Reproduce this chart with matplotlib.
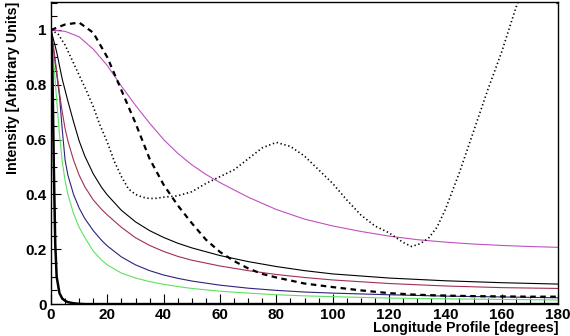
import matplotlib
matplotlib.use('Agg')
import matplotlib.pyplot as plt
from matplotlib.ticker import MultipleLocator

plt.rcParams['font.family'] = ['Liberation Sans', 'DejaVu Sans']

# Longitude profiles (degrees, intensity)
thick_x = [0, 0.5, 1, 1.5, 2, 3, 4, 5, 6, 8, 10, 12, 180]
thick_y = [1.0, 0.85, 0.5, 0.22, 0.1, 0.04, 0.02, 0.012, 0.007, 0.003, 0.001, 0.0, 0.0]

solid_x = [0, 1, 2, 3, 4, 5, 6, 8, 10, 12, 15, 18, 20, 25, 30, 35, 40, 45, 50,
           60, 70, 80, 90, 100, 120, 140, 160, 180]
green_y = [1.0, 0.88, 0.745, 0.62, 0.52, 0.45, 0.40, 0.33, 0.28, 0.243, 0.193, 0.16, 0.143,
           0.113, 0.095, 0.082, 0.072, 0.064, 0.057, 0.047, 0.04, 0.034, 0.03, 0.027,
           0.022, 0.019, 0.017, 0.015]
blue_y = [1.0, 0.92, 0.84, 0.76, 0.635, 0.525, 0.47, 0.40, 0.35, 0.312, 0.268, 0.232, 0.212,
          0.172, 0.143, 0.122, 0.106, 0.094, 0.084, 0.069, 0.058, 0.05, 0.044, 0.04,
          0.034, 0.029, 0.026, 0.023]
red_y = [1.0, 0.93, 0.85, 0.77, 0.70, 0.64, 0.595, 0.525, 0.47, 0.428, 0.38, 0.345, 0.325,
         0.28, 0.242, 0.214, 0.192, 0.174, 0.16, 0.139, 0.122, 0.108, 0.097, 0.088,
         0.075, 0.066, 0.06, 0.057]
black_y = [1.0, 0.96, 0.92, 0.87, 0.82, 0.78, 0.74, 0.665, 0.595, 0.54, 0.475, 0.425, 0.398,
           0.342, 0.30, 0.268, 0.243, 0.222, 0.205, 0.177, 0.155, 0.137, 0.122, 0.11,
           0.095, 0.085, 0.078, 0.073]

magenta_x = [0, 5, 10, 15, 20, 25, 30, 35, 40, 45, 50, 55, 60, 70, 80, 90, 100, 110, 120,
             130, 140, 150, 160, 170, 180]
magenta_y = [1.0, 0.995, 0.975, 0.93, 0.87, 0.795, 0.725, 0.66, 0.60, 0.55, 0.508, 0.473,
             0.443, 0.39, 0.345, 0.31, 0.285, 0.265, 0.248, 0.235, 0.226, 0.219, 0.214,
             0.21, 0.207]

dashed_x = [0, 5, 10, 15, 20, 25, 30, 35, 40, 45, 50, 55, 60, 65, 70, 75, 80, 90,
            100, 110, 120, 130, 140, 150, 160, 170, 180]
dashed_y = [1.0, 1.02, 1.027, 0.99, 0.90, 0.78, 0.66, 0.53, 0.435, 0.36, 0.295, 0.235,
            0.19, 0.157, 0.13, 0.11, 0.097, 0.075, 0.062, 0.05, 0.04, 0.034, 0.031,
            0.029, 0.028, 0.027, 0.027]

dotted_x = [0, 2.5, 5, 7.5, 10, 12.5, 15, 17.5, 20, 22.5, 25, 27.5, 30, 32.5, 35, 37.5,
            40, 45, 50, 55, 60, 65, 70, 75, 80, 85, 90, 95, 100, 105, 110, 115, 120,
            125, 128, 131, 134, 137, 140, 145, 150, 155, 160, 165, 170, 175, 180]
dotted_y = [1.0, 0.985, 0.945, 0.89, 0.835, 0.78, 0.72, 0.65, 0.59, 0.52, 0.465, 0.42,
            0.40, 0.39, 0.385, 0.386, 0.39, 0.395, 0.41, 0.44, 0.465, 0.49, 0.53, 0.57,
            0.59, 0.575, 0.54, 0.49, 0.44, 0.38, 0.325, 0.285, 0.26, 0.225, 0.21, 0.22,
            0.24, 0.28, 0.345, 0.48, 0.63, 0.78, 0.92, 1.08, 1.22, 1.22, 1.09]

fig = plt.figure(figsize=(5.7, 3.36), dpi=100)
ax = fig.add_axes([0.0895, 0.095, 0.8895, 0.899])

ax.plot(solid_x, green_y, color='#60e060', lw=0.8)
ax.plot(solid_x, blue_y, color='#302080', lw=0.8)
ax.plot(solid_x, red_y, color='#a03050', lw=0.8)
ax.plot(solid_x, black_y, color='black', lw=0.8)
ax.plot(magenta_x, magenta_y, color='#c050c0', lw=0.8)
ax.plot(dashed_x, dashed_y, color='black', lw=1.6, ls=(0, (2.5, 2)))
ax.plot(dotted_x, dotted_y, color='black', lw=1.2, ls=(0, (0.8, 1.6)))
ax.plot(thick_x, thick_y, color='black', lw=1.8)

ax.set_xlim(0, 180)
ax.set_ylim(0, 1.102)

ax.xaxis.set_major_locator(MultipleLocator(20))
ax.xaxis.set_minor_locator(MultipleLocator(5))
ax.yaxis.set_minor_locator(MultipleLocator(0.05))
ax.set_yticks([0, 0.2, 0.4, 0.6, 0.8, 1.0])
ax.set_yticklabels(['0', '0.2', '0.4', '0.6', '0.8', '1'])

ax.tick_params(which='both', direction='in', top=False, right=False,
               labelsize=11, width=0.8)
ax.tick_params(which='major', length=7, pad=3)
ax.tick_params(which='minor', length=4)
for lab in ax.get_xticklabels() + ax.get_yticklabels():
    lab.set_fontweight('bold')

for side in ax.spines.values():
    side.set_linewidth(1.0)

ax.set_xlabel('Longitude Profile [degrees]', fontsize=10.3, fontweight='bold',
              ha='right', va='center')
ax.xaxis.set_label_coords(1.0, -0.079)
ax.set_ylabel('Intensity [Arbitrary Units]', fontsize=10.3, fontweight='bold',
              loc='top', labelpad=4)

fig.savefig('out.png', dpi=100)
